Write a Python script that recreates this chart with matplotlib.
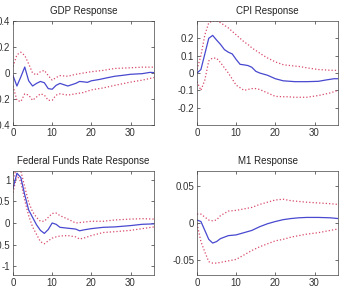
import numpy as np
import matplotlib
matplotlib.use("Agg")
import matplotlib.pyplot as plt

plt.rcParams['font.family'] = ['Liberation Sans', 'DejaVu Sans']
plt.rcParams['font.size'] = 7

# GDP response (horizon, mean, upper, lower)
gdp_x = [0, 1, 2, 3, 4, 5, 6, 7, 8, 9, 10, 11, 12, 13, 14, 15, 16, 17, 18, 19, 20, 22, 24, 26, 28, 30, 33, 35, 36]
gdp_mid = [-0.02, -0.10, -0.03, 0.046, -0.06, -0.10, -0.08, -0.065, -0.075, -0.12, -0.125, -0.095, -0.08, -0.09, -0.10,
           -0.09, -0.08, -0.065, -0.068, -0.072, -0.06, -0.05, -0.037, -0.025, -0.018, -0.01, -0.005, 0.005, 0.003]
gdp_up_x = [0, 1, 2, 3, 4, 5, 6, 7, 8, 9, 10, 11, 12, 14, 16, 18, 20, 23, 26, 30, 33, 36]
gdp_up = [0.05, 0.14, 0.16, 0.135, 0.07, 0.0, -0.015, 0.01, 0.02, -0.02, -0.055, -0.035, -0.02, -0.025, -0.01, 0.0,
          0.01, 0.02, 0.035, 0.04, 0.045, 0.045]
gdp_lo = [-0.10, -0.21, -0.22, -0.16, -0.17, -0.21, -0.185, -0.16, -0.17, -0.21, -0.21, -0.17, -0.16, -0.17, -0.16,
          -0.15, -0.13, -0.115, -0.095, -0.07, -0.055, -0.035]

# CPI response
cpi_x = [0, 1, 2, 3, 4, 5, 6, 7, 8, 9, 10, 11, 12, 13, 14, 15, 16, 18, 20, 22, 25, 28, 31, 33, 35, 36]
cpi_mid = [0.0, 0.02, 0.11, 0.20, 0.217, 0.19, 0.165, 0.135, 0.12, 0.11, 0.078, 0.05, 0.047, 0.043, 0.033, 0.01, 0.0,
           -0.013, -0.033, -0.045, -0.05, -0.05, -0.048, -0.04, -0.033, -0.033]
cpi_band_x = [0, 1, 2, 3, 4, 5, 6, 8, 10, 12, 13, 14, 15, 16, 17, 18, 20, 22, 23, 25, 26, 28, 31, 34, 36]
cpi_up = [0.02, 0.10, 0.22, 0.29, 0.30, 0.30, 0.29, 0.26, 0.22, 0.18, 0.165, 0.145, 0.13, 0.115, 0.10, 0.087, 0.064,
          0.048, 0.045, 0.04, 0.038, 0.03, 0.02, 0.016, 0.015]
cpi_lo = [-0.05, -0.10, -0.04, 0.07, 0.087, 0.085, 0.06, 0.0, -0.07, -0.10, -0.095, -0.09, -0.09, -0.095, -0.105,
          -0.115, -0.135, -0.137, -0.137, -0.14, -0.14, -0.14, -0.13, -0.115, -0.10]

# Federal funds rate response
ffr_x = [0, 1, 2, 3, 4, 5, 6, 7, 8, 9, 10, 11, 12, 14, 16, 17, 18, 20, 23, 26, 30, 33, 36]
ffr_mid = [0.80, 1.15, 1.05, 0.65, 0.30, 0.13, -0.04, -0.17, -0.24, -0.15, 0.0, -0.03, -0.10, -0.12, -0.14, -0.18,
           -0.16, -0.13, -0.10, -0.09, -0.06, -0.03, -0.02]
ffr_up = [1.00, 1.30, 1.20, 0.83, 0.48, 0.26, 0.13, 0.04, 0.04, 0.13, 0.22, 0.23, 0.17, 0.09, 0.0, 0.01, 0.02, 0.04,
          0.04, 0.07, 0.09, 0.10, 0.09]
ffr_lo = [0.70, 1.10, 0.95, 0.52, 0.17, -0.09, -0.26, -0.43, -0.48, -0.41, -0.35, -0.32, -0.30, -0.29, -0.32, -0.37,
          -0.35, -0.29, -0.22, -0.20, -0.17, -0.13, -0.09]

# M1 response
m1_x = [0, 1, 2, 3, 4, 5, 6, 8, 10, 12, 14, 16, 18, 20, 22, 24, 26, 28, 31, 34, 36]
m1_mid = [0.004, 0.002, -0.01, -0.022, -0.027, -0.025, -0.021, -0.017, -0.016, -0.013, -0.01, -0.005, -0.001, 0.002,
          0.0045, 0.006, 0.007, 0.0075, 0.0075, 0.007, 0.006]
m1_up = [0.012, 0.012, 0.008, 0.004, 0.003, 0.004, 0.01, 0.016, 0.017, 0.019, 0.021, 0.025, 0.028, 0.031, 0.032,
         0.030, 0.029, 0.028, 0.027, 0.026, 0.025]
m1_lo = [-0.001, -0.025, -0.039, -0.052, -0.054, -0.054, -0.053, -0.051, -0.049, -0.043, -0.037, -0.032, -0.028,
         -0.024, -0.022, -0.019, -0.017, -0.015, -0.013, -0.01, -0.008]

panels = [
    ("GDP Response", gdp_x, gdp_mid, gdp_up_x, gdp_up, gdp_lo, (-0.4, 0.4),
     [-0.4, -0.2, 0, 0.2, 0.4], ["-0.4", "-0.2", "0", "0.2", "0.4"]),
    ("CPI Response", cpi_x, cpi_mid, cpi_band_x, cpi_up, cpi_lo, (-0.3, 0.3),
     [-0.2, -0.1, 0, 0.1, 0.2], ["-0.2", "-0.1", "0", "0.1", "0.2"]),
    ("Federal Funds Rate Response", ffr_x, ffr_mid, ffr_x, ffr_up, ffr_lo, (-1.2, 1.2),
     [-1, -0.5, 0, 0.5, 1], ["-1", "-0.5", "0", "0.5", "1"]),
    ("M1 Response", m1_x, m1_mid, m1_x, m1_up, m1_lo, (-0.07, 0.07),
     [-0.05, 0, 0.05], ["-0.05", "0", "0.05"]),
]

W, H = 344, 299
fig = plt.figure(figsize=(W / 100, H / 100), dpi=100)
boxes = [(13, 21), (197, 21), (13, 171), (197, 171)]
aw, ah = 141, 104

for (title, x, mid, bx, up, lo, ylim, yt, ytl), (l, t) in zip(panels, boxes):
    ax = fig.add_axes([l / W, 1 - (t + ah) / H, aw / W, ah / H])
    ax.plot(bx, up, ':', color='#d84a6a', lw=0.9)
    ax.plot(bx, lo, ':', color='#d84a6a', lw=0.9)
    ax.plot(x, mid, '-', color='#4848d0', lw=0.9)
    ax.set_xlim(0, 36)
    ax.set_ylim(*ylim)
    ax.set_xticks([0, 10, 20, 30])
    ax.set_yticks(yt)
    ax.set_yticklabels(ytl)
    ax.tick_params(direction='in', length=2, width=0.5, top=True, right=True,
                   labelsize=7, pad=2, colors='#333333')
    for s in ax.spines.values():
        s.set_linewidth(0.5)
        s.set_color('#444444')
    ax.set_title(title, fontsize=7, pad=5, color='#222222')

fig.savefig("out.png", dpi=100)
